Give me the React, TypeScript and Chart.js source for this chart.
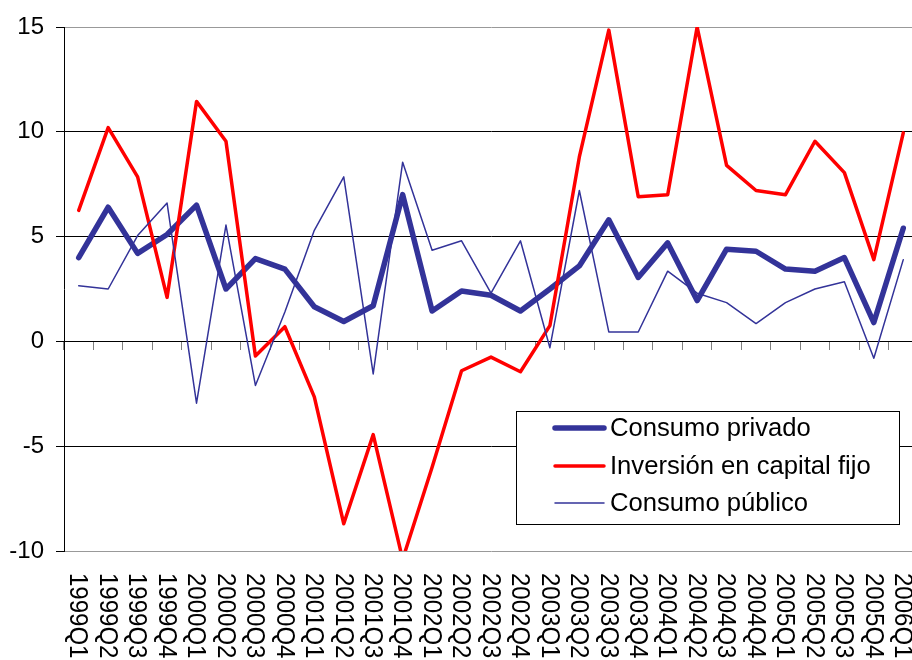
import React, { useEffect, useRef } from "react";
import { Chart, registerables } from "chart.js";

Chart.register(...registerables);

const categories = [
  "1999Q1", "1999Q2", "1999Q3", "1999Q4",
  "2000Q1", "2000Q2", "2000Q3", "2000Q4",
  "2001Q1", "2001Q2", "2001Q3", "2001Q4",
  "2002Q1", "2002Q2", "2002Q3", "2002Q4",
  "2003Q1", "2003Q2", "2003Q3", "2003Q4",
  "2004Q1", "2004Q2", "2004Q3", "2004Q4",
  "2005Q1", "2005Q2", "2005Q3", "2005Q4",
  "2006Q1",
];

const consumoPrivado = [
  4.0, 6.4, 4.2, 5.1, 6.5, 2.5, 3.95, 3.45, 1.65, 0.95, 1.7, 7.0, 1.45, 2.4, 2.2,
  1.45, 2.5, 3.6, 5.8, 3.05, 4.7, 1.95, 4.4, 4.3, 3.45, 3.35, 4.0, 0.9, 5.4,
];

const inversionCapitalFijo = [
  6.25, 10.2, 7.85, 2.1, 11.45, 9.55, -0.7, 0.7, -2.65, -8.7, -4.45, -10.4, -6.0,
  -1.4, -0.75, -1.45, 0.75, 8.8, 14.85, 6.9, 7.0, 15.0, 8.4, 7.2, 7.0, 9.55, 8.05,
  3.9, 9.95,
];

const consumoPublico = [
  2.65, 2.5, 5.05, 6.6, -2.95, 5.55, -2.1, 1.4, 5.3, 7.85, -1.55, 8.55, 4.35, 4.8,
  2.3, 4.8, -0.3, 7.2, 0.45, 0.45, 3.35, 2.3, 1.85, 0.85, 1.85, 2.5, 2.85, -0.8, 3.9,
];

const seriesNames = ["Consumo privado", "Inversión en capital fijo", "Consumo público"];

const FONT = '"Liberation Sans", Arial, sans-serif';

const xLabelsPlugin = {
  id: "rotatedXLabels",
  afterDraw(chart: any) {
    const { ctx, scales, chartArea } = chart;
    const x = scales.x;
    ctx.save();
    ctx.fillStyle = "#000";
    ctx.font = `24px ${FONT}`;
    ctx.textAlign = "left";
    ctx.textBaseline = "middle";
    const labels = chart.data.labels as string[];
    labels.forEach((lab, i) => {
      const px = x.getPixelForValue(i);
      ctx.save();
      ctx.translate(px, chartArea.bottom + 22);
      ctx.rotate(Math.PI / 2);
      ctx.scale(1, 1.08);
      ctx.fillText(lab, 0, 1);
      ctx.restore();
    });
    ctx.restore();
  },
};

const legendPlugin = {
  id: "boxLegend",
  afterDraw(chart: any) {
    const { ctx } = chart;
    const left = 516.5;
    const top = 411.5;
    const w = 383;
    const h = 113;
    ctx.save();
    ctx.fillStyle = "#fff";
    ctx.fillRect(left, top, w, h);
    ctx.strokeStyle = "#000";
    ctx.lineWidth = 1;
    ctx.strokeRect(left, top, w, h);
    const rows = [428, 466, 503];
    chart.data.datasets.forEach((ds: any, i: number) => {
      const y = rows[i];
      ctx.beginPath();
      ctx.strokeStyle = ds.borderColor;
      ctx.lineWidth = ds.borderWidth;
      ctx.lineCap = "round";
      ctx.moveTo(555, y);
      ctx.lineTo(604, y);
      ctx.stroke();
      ctx.fillStyle = "#000";
      ctx.font = `25px ${FONT}`;
      ctx.textAlign = "left";
      ctx.textBaseline = "middle";
      ctx.save();
      ctx.translate(610, y + 1);
      ctx.scale(1.025, 1);
      ctx.fillText(ds.label, 0, 0);
      ctx.restore();
    });
    ctx.restore();
  },
};

export default function App() {
  const ref = useRef<HTMLCanvasElement | null>(null);

  useEffect(() => {
    if (!ref.current) return;
    const chart = new Chart(ref.current, {
      type: "line",
      data: {
        labels: categories,
        datasets: [
          {
            label: seriesNames[0],
            data: consumoPrivado,
            borderColor: "#333399",
            borderWidth: 5.5,
            order: 3,
          },
          {
            label: seriesNames[1],
            data: inversionCapitalFijo,
            borderColor: "#ff0000",
            borderWidth: 3.5,
            order: 2,
          },
          {
            label: seriesNames[2],
            data: consumoPublico,
            borderColor: "#333399",
            borderWidth: 1.5,
            order: 1,
          },
        ] as any,
      },
      options: {
        animation: false,
        responsive: false,
        maintainAspectRatio: false,
        devicePixelRatio: 1,
        layout: { padding: { top: 27, bottom: 109, left: 0, right: 0 } },
        elements: {
          point: { radius: 0, hoverRadius: 0 },
          line: { tension: 0, borderJoinStyle: "round", borderCapStyle: "round" },
        },
        plugins: {
          legend: { display: false },
          tooltip: { enabled: false },
        },
        scales: {
          x: {
            type: "category",
            position: { y: 0 } as any,
            offset: true,
            grid: {
              offset: true,
              drawOnChartArea: false,
              drawTicks: true,
              tickLength: 8,
              color: "#808080",
            },
            border: { display: true, color: "#000", width: 1 },
            ticks: { display: false },
          },
          y: {
            min: -10,
            max: 15,
            afterFit: (scale: any) => {
              scale.width = 64;
            },
            ticks: {
              stepSize: 5,
              color: "#000",
              padding: 12,
              font: { family: FONT, size: 24 },
            },
            grid: {
              color: (c: any) =>
                c.tick && (c.tick.value === 15 || c.tick.value === -10) ? "#999999" : "#000000",
              tickColor: "#000",
              tickLength: 8,
              lineWidth: 1,
            },
            border: { display: true, color: "#000", width: 1 },
          },
        },
      } as any,
      plugins: [xLabelsPlugin, legendPlugin],
    });
    return () => chart.destroy();
  }, []);

  return (
    <div
      style={{
        position: "absolute",
        left: 0,
        top: 0,
        width: 912,
        height: 660,
        overflow: "hidden",
        background: "#fff",
      }}
    >
      <canvas ref={ref} width={918} height={660} style={{ display: "block", width: 918, height: 660 }} />
    </div>
  );
}
